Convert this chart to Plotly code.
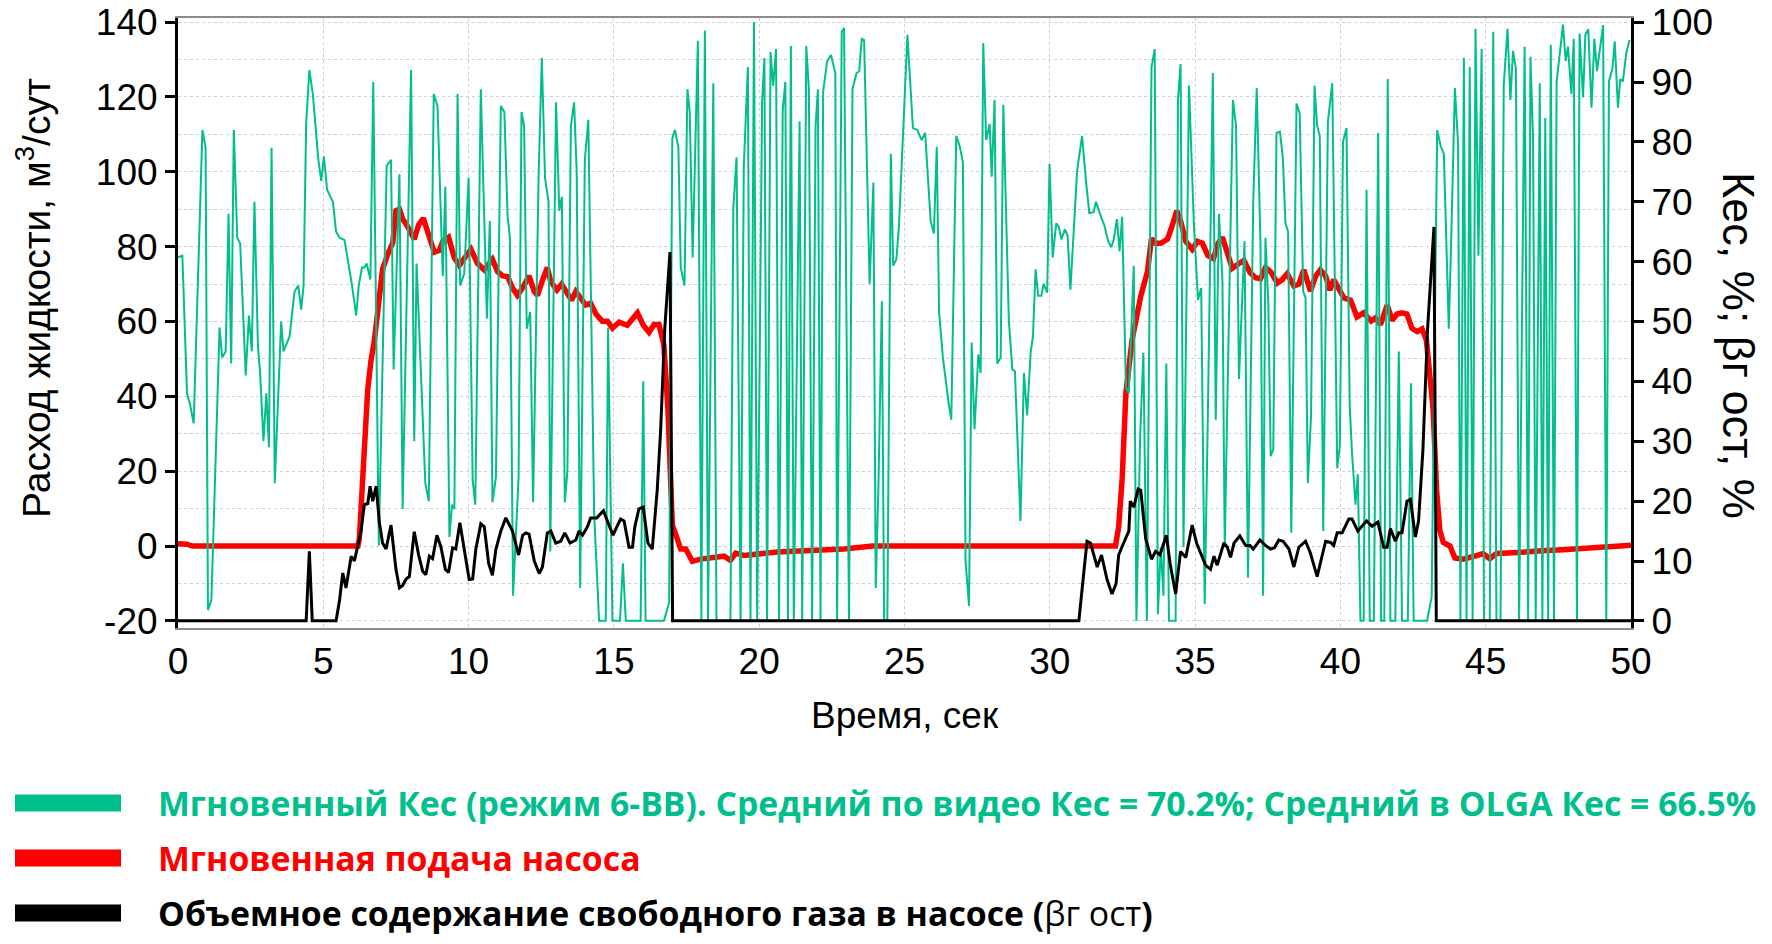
import plotly.graph_objects as go

# Мгновенный Кес, % (правая ось)
kes_time = [0.0, 0.15, 0.31, 0.42, 0.54, 0.84, 0.95, 1.03, 1.15, 1.43, 1.52, 1.64, 1.74, 1.83, 1.92,
            2.04, 2.14, 2.33, 2.44, 2.54, 2.63, 2.75, 2.83, 2.94, 3.04, 3.13, 3.22, 3.33, 3.55, 3.63,
            3.84, 4.01, 4.14, 4.24, 4.32, 4.41, 4.52, 4.64, 4.83, 4.93, 5.02, 5.13, 5.33, 5.44, 5.56,
            5.73, 5.99, 6.13, 6.22, 6.33, 6.41, 6.49, 6.62, 6.72, 6.91, 7.18, 7.33, 7.42, 7.62, 7.73,
            8.02, 8.13, 8.21, 8.51, 8.63, 8.80, 8.93, 9.11, 9.20, 9.34, 9.43, 9.51, 9.62, 9.71, 9.85,
            10.00, 10.14, 10.23, 10.42, 10.63, 10.73, 10.82, 10.94, 11.11, 11.23, 11.34, 11.42, 11.53,
            11.72, 11.82, 11.91, 12.00, 12.12, 12.22, 12.41, 12.52, 12.63, 12.75,
            12.81, 13.01, 13.12, 13.21, 13.31, 13.40, 13.52, 13.63, 13.72, 13.84, 14.00, 14.12, 14.32,
            14.49, 14.72, 14.80, 14.95, 15.21, 15.31, 15.41, 15.92, 16.01, 16.09, 16.72, 16.90, 17.01,
            17.10, 17.22, 17.30, 17.43, 17.53, 17.61, 17.71, 17.89, 18.01, 18.13, 18.24, 18.42, 18.53,
            19.01, 19.11, 19.22, 19.36, 19.47, 19.61, 19.70, 19.82, 19.93, 20.10, 20.18, 20.27, 20.39,
            20.48, 20.58, 20.68, 20.81, 20.90, 20.99, 21.09, 21.19, 21.39, 21.48, 21.62, 21.71, 21.82,
            21.94, 22.02, 22.11, 22.20, 22.34, 22.47, 22.62, 22.68,
            22.84, 22.92, 23.09, 23.21, 23.35, 23.44, 23.53, 23.61, 23.80, 23.93, 24.01, 24.10, 24.22,
            24.30, 24.41, 24.53, 24.61, 24.72, 24.81, 25.10, 25.29, 25.44, 25.59, 25.71, 25.90, 26.01,
            26.11, 26.19, 26.32, 26.53, 26.61, 26.78, 26.90, 27.01, 27.10, 27.22, 27.31, 27.41, 27.54,
            27.62, 27.71, 27.81, 27.93, 28.00, 28.10, 28.19, 28.31, 28.40, 28.59, 28.71, 28.80, 28.99,
            29.11, 29.22, 29.34, 29.42, 29.51, 29.60, 29.71, 29.79, 29.91, 29.99, 30.10, 30.22, 30.31,
            30.40, 30.52, 30.61, 30.71, 30.94, 31.11, 31.25, 31.36, 31.51, 31.59, 31.74, 31.88, 32.01,
            32.12, 32.20, 32.31, 32.40, 32.49, 32.62, 32.72, 32.89, 32.98,
            33.11, 33.22, 33.34, 33.50, 33.61, 33.72, 33.82, 33.91, 34.01, 34.10, 34.33, 34.41, 34.50,
            34.60, 34.79, 34.96, 35.10, 35.21, 35.33, 35.44, 35.61, 35.71, 35.82, 35.94, 36.02, 36.30,
            36.41, 36.51, 36.70, 36.82, 37.00, 37.12, 37.25, 37.34, 37.42, 37.52, 37.60, 37.69, 37.80,
            37.92, 38.02, 38.11, 38.20, 38.31, 38.49, 38.60, 38.72, 38.80, 38.88, 38.99, 39.11, 39.20,
            39.29, 39.41, 39.57, 39.72, 39.89, 39.98, 40.09, 40.21, 40.32, 40.40, 40.52, 40.60, 40.69,
            40.80, 40.90, 41.01, 41.15, 41.30, 41.40, 41.51, 41.63, 41.72, 41.89, 42.01, 42.12, 42.32,
            42.43, 42.52, 42.98,
            43.14, 43.33, 43.45, 43.56, 43.73, 43.82, 43.94, 44.05, 44.13, 44.25, 44.34, 44.45, 44.55,
            44.65, 44.75, 44.86, 44.94, 45.14, 45.26, 45.37, 45.51, 45.62, 45.75, 45.85, 45.94, 46.04,
            46.15, 46.34, 46.46, 46.54, 46.63, 46.72, 46.86, 46.95, 47.05, 47.15, 47.24, 47.35, 47.44,
            47.66, 47.75, 47.83, 47.95, 48.03, 48.14, 48.23, 48.35, 48.43, 48.53, 48.64, 48.74, 48.83,
            48.92, 49.04, 49.15, 49.24, 49.36, 49.44, 49.55, 49.63, 49.72, 49.84, 49.95]
kes_value = [60.7, 61, 38, 36, 33, 82, 79, 1.8, 3.5, 49, 44, 45, 68, 43, 82,
             64, 63, 41, 51, 45, 70, 46, 41, 30, 38, 29, 79, 23, 50, 45,
             47.5, 55, 56, 52, 56, 83, 92, 88, 77, 73.5, 77.6, 72, 70, 65, 64,
             63.6, 56, 51, 56, 59, 59, 59.7, 57, 90, 12.6, 76, 77, 42, 74.6, 18.7,
             92, 30, 59.7, 23, 20, 88, 86, 57.6, 72.5, 14, 19.4, 18.7, 88, 56, 58,
             74, 23.5, 19.4, 88.8, 50.5, 66.8, 19.8, 24, 86, 85, 67.8, 64, 4.2,
             24, 85, 82.7, 48.8, 51.6, 19.8, 74.6, 94, 74, 70,
             11.6, 86.6, 68.5, 70.8, 19.8, 25, 82.7, 86.6, 75, 5.5, 77, 83.7, 18,
             0, 0, 49, 0, 0, 9.6, 0, 0, 40, 0, 0, 3, 80.6,
             82, 79, 59, 56, 88.8, 85, 60.7, 96.9, 0, 98.6, 0, 89.8, 0,
             0, 69, 77.4, 0, 76, 92.5, 0, 100, 0, 86.7, 94, 0, 95,
             89.4, 95.5, 0, 85.4, 90, 0, 96, 0, 83.4, 0, 96, 88.8, 0,
             82.7, 88.8, 0, 88.4, 93.5, 94.5, 91.5, 0,
             98.4, 99, 0, 88.8, 91.5, 91.8, 97.2, 97, 56.3, 73.2, 5.5, 21.8, 53.4,
             0, 0, 78, 59.3, 60.4, 66, 97.9, 82.3, 82, 80.3, 81.5, 66.8, 64.7,
             79.2, 51.6, 44, 36, 33.6, 81, 79.3, 76.6, 10, 2.5, 46.5, 32, 44.5,
             41.4, 96.5, 80.3, 83, 74.2, 87, 43, 44, 86.2, 50.2, 42, 41.7, 16.7,
             41.4, 34.3, 44.8, 47.5, 58.7, 54.3, 54.3, 56.3, 54.8, 76.3, 60.7, 66.4, 65.8,
             63.7, 65.4, 64.4, 55.3, 75.2, 81, 73.2, 68.1, 68.3, 70, 67.8, 66, 63.4,
             62.4, 63.7, 67.1, 61.7, 67.5, 39, 38, 59.3, 0,
             31, 44.8, 0, 92.5, 95.5, 1.1, 12.3, 4.2, 43, 0, 0, 87, 93,
             12.3, 89.4, 66, 53.6, 55.6, 2.8, 34.6, 91.5, 33.6, 68, 57, 12.3, 87,
             82.7, 40.4, 63.4, 7.2, 69.8, 89, 63, 4.2, 64, 53, 27.5, 28.6, 81.5,
             81.7, 77.3, 66.4, 65, 14.7, 86.4, 84.7, 55, 54, 23, 34.3, 89.4, 82.7,
             81, 15, 83.4, 89.8, 25.5, 29.2, 80, 82.3, 36, 28, 19.4, 24.5, 0,
             0, 72, 0, 0, 81.5, 0, 0, 90.5, 0, 0, 45, 0, 0,
             39.7, 0, 0,
             4, 82, 79.3, 78, 48.8, 65, 89, 79.6, 0, 94, 0, 92.5, 0,
             98.9, 61, 95.5, 0, 0, 98.4, 0, 0, 89.4, 98.9, 87, 95.2, 92.2,
             0, 95.9, 0, 94.2, 80.6, 0, 89.8, 0, 84, 0, 96.2, 0, 90,
             99.6, 93.5, 95.9, 88, 97.2, 0, 98.1, 87.4, 97.9, 98.8, 85.7, 97.2, 91.8,
             94.9, 99.5, 0, 90.1, 92.2, 96.8, 85.7, 90.5, 90.1, 94.9, 97]

# Мгновенная подача насоса, м3/сут (левая ось)
flow_time = [0, 0.3, 0.5, 6.19, 6.24, 6.33, 6.41, 6.53, 6.64, 6.76,
             6.87, 7.04, 7.22, 7.39, 7.50, 7.62, 7.73, 7.90, 8.13, 8.28,
             8.44, 8.59, 8.82, 8.99, 9.11, 9.31, 9.51, 9.68, 9.91, 10.08,
             10.31, 10.54, 10.82, 11.00, 11.17, 11.34, 11.51, 11.68, 11.86, 12.08,
             12.26, 12.37, 12.54, 12.71, 12.83, 13.04, 13.20, 13.34, 13.54, 13.69,
             13.86, 14.03, 14.20, 14.38, 14.60, 14.78, 14.95, 15.18, 15.46, 15.67,
             15.81, 16.01, 16.21, 16.38, 16.55, 16.72, 16.86, 17.01, 17.18, 17.30,
             17.47, 17.70, 17.98, 18.33, 18.79, 19.01, 19.19, 19.47, 20.05, 20.62,
             21.19, 21.76, 22.34, 22.91, 23.90, 32.26, 32.37, 32.49, 32.62, 32.83,
             33.13, 33.36, 33.50, 33.64, 33.82, 34.05, 34.22, 34.37, 34.50, 34.68,
             34.90, 35.08, 35.25, 35.44, 35.63, 35.79, 35.94, 36.11, 36.28, 36.51,
             36.68, 36.89, 37.08, 37.25, 37.42, 37.60, 37.83, 38.00, 38.17, 38.40,
             38.57, 38.74, 38.97, 39.14, 39.31, 39.49, 39.64, 39.77, 39.94, 40.12,
             40.35, 40.57, 40.80, 41.06, 41.20, 41.38, 41.61, 41.78, 41.95, 42.12,
             42.29, 42.46, 42.64, 42.81, 42.96, 43.09, 43.19, 43.31, 43.42, 43.54,
             43.77, 43.94, 44.23, 44.57, 44.91, 45.14, 45.37, 45.94, 46.52, 47.09,
             47.66, 48.23, 48.81, 49.38, 50.0]
flow_value = [0.6, 0.5, 0, 0, 1.9, 15, 30, 42, 49.5, 55,
              62.5, 74, 78, 81, 89.6, 90, 87.4, 85.4, 82, 85.8,
              87.6, 83.6, 78.5, 79, 81.4, 82.5, 77, 75, 77.6, 79.3,
              75.5, 73.8, 76.6, 73.3, 72.2, 72, 69, 67, 69, 72.2,
              68, 67, 71, 74.4, 70.6, 68.4, 70, 68.4, 65.7, 68,
              66.3, 64.4, 64.9, 62, 60.1, 60.1, 58.2, 59.8, 59, 60.9,
              62.3, 59, 57.1, 59.2, 59.2, 53.8, 36.5, 5.7, 1.9, -0.8,
              -0.8, -4.1, -3.5, -3, -2.7, -3.8, -1.9, -2.5, -1.9, -1.6,
              -1.4, -1.2, -0.8, -0.8, 0, 0, 5.1, 18, 41, 55,
              66.8, 73.3, 82.2, 80.9, 80.9, 82, 85.8, 89.6, 86.9, 81.4,
              79.3, 81.4, 80.9, 77.6, 76.8, 80.9, 82.5, 78.7, 74.2, 75.5,
              76.3, 73.1, 71.7, 71.4, 74.4, 73.3, 70.3, 71.2, 72.8, 69.5,
              70, 73.8, 68.1, 72, 73.8, 72.2, 68.4, 71.2, 69, 66.3,
              65.7, 61.2, 62.3, 60.1, 60.9, 59.2, 64.4, 60.3, 62, 62.3,
              62, 58.2, 57.3, 58, 55, 45.2, 36.6, 15, 4.2, 1,
              0, -3.2, -3.5, -2.8, -2, -3.4, -2, -1.8, -1.4, -1.2,
              -1, -0.7, -0.4, -0.2, 0.2]

# Объемное содержание свободного газа в насосе, % (правая ось)
gas_time = [0, 4.41, 4.52, 4.62, 5.44, 5.56, 5.67, 5.78, 5.96, 6.07,
            6.19, 6.30, 6.41, 6.53, 6.61, 6.70, 6.82, 6.93, 7.04, 7.16,
            7.33, 7.50, 7.62, 7.73, 7.85, 7.96, 8.13, 8.28, 8.42, 8.53,
            8.65, 8.76, 8.91, 9.05, 9.20, 9.31, 9.45, 9.56, 9.70, 9.89,
            10.02, 10.14, 10.25, 10.42, 10.54, 10.69, 10.82, 10.94, 11.11, 11.28,
            11.40, 11.51, 11.72, 11.86, 11.97, 12.08, 12.26, 12.43, 12.54, 12.71,
            12.83, 13.00, 13.17, 13.31, 13.49, 13.69, 13.80, 13.92, 14.09, 14.20,
            14.41, 14.64, 14.80, 14.97, 15.10, 15.23, 15.35, 15.52, 15.64, 15.72,
            15.86, 16.01, 16.17, 16.32, 16.49, 16.61, 16.75, 16.93, 17.02, 31.00,
            31.28, 31.40, 31.63, 31.78, 31.97, 32.14, 32.28, 32.37, 32.54, 32.72,
            32.77, 32.89, 33.04, 33.13, 33.30, 33.50, 33.64, 33.79, 34.01, 34.14,
            34.33, 34.50, 34.68, 34.90, 35.05, 35.19, 35.36, 35.53, 35.65, 35.76,
            35.99, 36.11, 36.22, 36.34, 36.54, 36.74, 36.89, 37.00, 37.23, 37.42,
            37.60, 37.73, 37.88, 38.03, 38.23, 38.40, 38.57, 38.80, 38.97, 39.20,
            39.49, 39.66, 39.77, 39.89, 40.06, 40.29, 40.40, 40.60, 40.90, 41.09,
            41.29, 41.49, 41.61, 41.72, 41.89, 42.01, 42.12, 42.29, 42.41, 42.58,
            42.69, 42.84, 43.00, 43.22, 43.30, 50.0]
gas_value = [0, 0, 11.6, 0, 0, 3.5, 8, 5.5, 10.8, 10,
             12.6, 15, 19.4, 19.6, 22.5, 20, 22.5, 16.4, 13, 12,
             16, 8.6, 5.5, 5.9, 7, 7.4, 14.9, 11, 8.3, 7.7,
             10.8, 10.4, 14.3, 12.3, 8.6, 8.1, 12.2, 12, 16.4, 10.3,
             6.9, 7, 12, 16.2, 15.7, 9.6, 7.6, 12, 15, 17.2,
             16, 15, 11, 14.3, 14.7, 14.5, 10, 7.9, 9, 14.7,
             15, 13, 13.3, 14.7, 13, 13.5, 15, 14.3, 15.7, 17.2,
             17.2, 18.4, 16.4, 14.3, 15.7, 17, 16.7, 12.3, 12.3, 15.7,
             18.7, 19, 13, 12, 21.8, 32, 48.8, 61.6, 0, 0,
             13.3, 13, 9, 11, 6.9, 4.5, 6.2, 11, 13, 15,
             20, 19, 22, 21.8, 13.7, 10.3, 11.6, 11, 14.3, 9.6,
             4.5, 11.6, 10.6, 16, 13, 11.3, 9.3, 8.6, 10.8, 9.3,
             13, 12.3, 10.6, 13, 14.2, 12.6, 12.6, 12, 13.5, 12.6,
             12, 12.2, 13.5, 13.3, 12, 9, 12.3, 13.3, 11.3, 7.4,
             13.3, 13.1, 12.6, 14.7, 14.7, 17, 17, 15, 16.7, 15.8,
             16.5, 12.3, 12.3, 15.4, 13.3, 14.7, 14.7, 20, 20.3, 14,
             16.7, 28.6, 48.8, 65.8, 0, 0]

x_ticks = [0, 5, 10, 15, 20, 25, 30, 35, 40, 45, 50]
left_ticks = [-20, 0, 20, 40, 60, 80, 100, 120, 140]
right_ticks = [0, 10, 20, 30, 40, 50, 60, 70, 80, 90, 100]

legend_names = [
    'Мгновенный Кес (режим 6-ВВ). Средний по видео Кес = 70.2%; Средний в OLGA Кес = 66.5%',
    'Мгновенная подача насоса',
    'Объемное содержание свободного газа в насосе (',
]

assert len(kes_time) == len(kes_value)
assert len(flow_time) == len(flow_value)
assert len(gas_time) == len(gas_value)

GREEN = '#00bf8c'
RED = '#ff0000'
BLACK = '#000000'
GRID = '#cfcfcf'
FONT = 'Liberation Sans, Arial, sans-serif'
LEG_FONT = 'Open Sans, sans-serif'

# the page body adds an 8px margin, so the figure is 16px smaller than the window
W, H = 1756, 928

fig = go.Figure()

fig.add_trace(go.Scatter(x=kes_time, y=kes_value, yaxis='y2', mode='lines',
                         line=dict(color=GREEN, width=2), showlegend=False))
fig.add_trace(go.Scatter(x=flow_time, y=flow_value, mode='lines',
                         line=dict(color=RED, width=5.5), showlegend=False))
fig.add_trace(go.Scatter(x=gas_time, y=gas_value, yaxis='y2', mode='lines',
                         line=dict(color=BLACK, width=3), showlegend=False))

# legend drawn below the plot: thick colour keys + labels
plot_l, plot_r, plot_b, plot_t = 170, 1623, 620, 10
pw, ph = plot_r - plot_l, plot_b - plot_t


def px_x(x):
    return (x - plot_l) / pw


def px_y(y):
    return (plot_b - y) / ph


legend_rows = [795, 850, 905]
legend_colors = [GREEN, RED, BLACK]
legend_text = [
    '<b>%s</b>' % legend_names[0],
    '<b>%s</b>' % legend_names[1],
    '<b>%s</b>βг ост<b>)</b>' % legend_names[2],
]

shapes = []
annotations = []
for row, col, txt in zip(legend_rows, legend_colors, legend_text):
    shapes.append(dict(type='rect', xref='paper', yref='paper',
                       x0=px_x(7), x1=px_x(113), y0=px_y(row - 8.5), y1=px_y(row + 8.5),
                       fillcolor=col, line=dict(width=0)))
    annotations.append(dict(text=txt, xref='paper', yref='paper',
                            x=px_x(148), y=px_y(row), xanchor='left', yanchor='middle',
                            showarrow=False, font=dict(size=33.8, family=LEG_FONT, color=col)))

annotations += [
    dict(text='Расход жидкости, м<sup>3</sup>/сут', xref='paper', yref='paper',
         x=px_x(25), y=px_y(290), textangle=-90, showarrow=False,
         xanchor='center', yanchor='middle', font=dict(size=39, family=FONT)),
    dict(text='Кес, %; βг ост, %', xref='paper', yref='paper',
         x=px_x(1731), y=px_y(337), textangle=90, showarrow=False,
         xanchor='center', yanchor='middle', font=dict(size=45, family=FONT)),
    dict(text='Время, сек', xref='paper', yref='paper',
         x=0.5, y=px_y(707), showarrow=False,
         xanchor='center', yanchor='middle', font=dict(size=37, family=FONT)),
]

fig.update_layout(
    width=W, height=H,
    margin=dict(l=plot_l, r=W - plot_r, t=plot_t, b=H - plot_b),
    paper_bgcolor='white', plot_bgcolor='white',
    font=dict(family=FONT, color='black'),
    showlegend=False,
    xaxis=dict(
        range=[0, 50], tickvals=x_ticks, ticktext=[str(v) for v in x_ticks],
        automargin=False,
        showline=True, linecolor='#8c8c8c', linewidth=2, mirror=True,
        showgrid=True, gridcolor=GRID, griddash='dot', gridwidth=1,
        ticks='',
        tickfont=dict(size=37, family=FONT), zeroline=False,
    ),
    yaxis=dict(
        range=[-21.9, 141.1], tickvals=left_ticks,
        ticktext=[str(v) for v in left_ticks],
        automargin=False,
        showline=True, linecolor='black', linewidth=3,
        ticks='outside', ticklen=10, tickwidth=3, tickcolor='black',
        ticklabeloverflow='allow',
        showgrid=True, gridcolor=GRID, griddash='dot', gridwidth=1,
        minor=dict(tickvals=[-10, 10, 30, 50, 70, 90, 110, 130], showgrid=True,
                   gridcolor=GRID, griddash='dot', gridwidth=1, ticks=''),
        tickfont=dict(size=37, family=FONT), zeroline=False,
    ),
    yaxis2=dict(
        range=[-1.19, 100.69], tickvals=right_ticks, overlaying='y', side='right',
        automargin=False,
        showline=True, linecolor='black', linewidth=3,
        ticks='outside', ticklen=10, tickwidth=3, tickcolor='black',
        ticklabeloverflow='allow',
        showgrid=False, zeroline=False,
        tickfont=dict(size=37, family=FONT),
    ),
    shapes=shapes,
    annotations=annotations,
)

fig.write_html('out.html')
